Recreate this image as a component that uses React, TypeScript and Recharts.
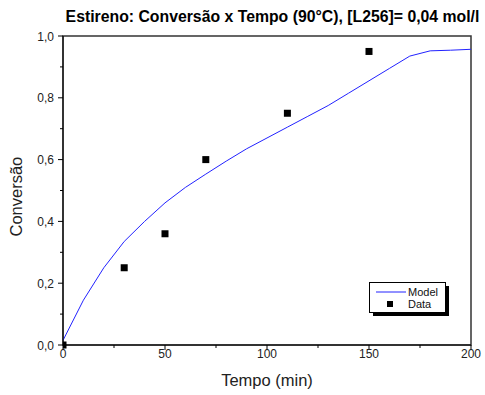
import React from "react";
import {
  ComposedChart,
  Line,
  Scatter,
  XAxis,
  YAxis,
  ReferenceArea,
} from "recharts";

const modelTime = [0, 10, 20, 30, 40, 50, 60, 70, 80, 90, 100, 110, 120, 130, 140, 150, 160, 170, 180, 190, 200];
const modelConv = [0.015, 0.145, 0.25, 0.335, 0.4, 0.46, 0.51, 0.553, 0.595, 0.635, 0.67, 0.705, 0.74, 0.775, 0.815, 0.855, 0.895, 0.935, 0.952, 0.954, 0.957];

const dataTime = [0, 30, 50, 70, 110, 150];
const dataConv = [0, 0.25, 0.36, 0.6, 0.75, 0.95];

const xTicks = [0, 25, 50, 75, 100, 125, 150, 175, 200];
const yTicks = [0, 0.1, 0.2, 0.3, 0.4, 0.5, 0.6, 0.7, 0.8, 0.9, 1.0];

const modelData = modelTime.map((t, i) => ({ t, model: modelConv[i] }));
const pointData = dataTime.map((t, i) => ({ t, data: dataConv[i] }));

const font = "Arial, 'Liberation Sans', Helvetica, sans-serif";

function XTick(props: any) {
  const { x, y, payload } = props;
  const major = payload.value % 50 === 0;
  return (
    <g>
      <line x1={x} y1={y} x2={x} y2={y + (major ? 5 : 3)} stroke="#000" strokeWidth={1} />
      {major && (
        <text x={x} y={y + 13} textAnchor="middle" fontSize={12} fontFamily={font} fill="#222">
          {payload.value}
        </text>
      )}
    </g>
  );
}

function YTick(props: any) {
  const { x, y, payload } = props;
  const v = Math.round(payload.value * 10);
  const major = v % 2 === 0;
  return (
    <g>
      <line x1={x} y1={y} x2={x - (major ? 5 : 3)} y2={y} stroke="#000" strokeWidth={1} />
      {major && (
        <text x={x - 9} y={y + 4.5} textAnchor="end" fontSize={12} fontFamily={font} fill="#222">
          {payload.value.toFixed(1).replace(".", ",")}
        </text>
      )}
    </g>
  );
}

function Square(props: any) {
  const { cx, cy } = props;
  return <rect x={cx - 3.5} y={cy - 3.5} width={7} height={7} fill="#000" />;
}

export default function App() {
  return (
    <div style={{ position: "absolute", left: 0, top: 0, width: 485, height: 395, background: "#fff" }}>
      <ComposedChart width={485} height={395} margin={{ top: 36, right: 14, bottom: 0, left: 0 }}>
        <text x={272.5} y={22} textAnchor="middle" fontSize={15.8} fontWeight="bold" fontFamily={font} fill="#000">
          Estireno: Conversão x Tempo (90°C), [L256]= 0,04 mol/l
        </text>
        <XAxis
          type="number"
          dataKey="t"
          domain={[0, 200]}
          ticks={xTicks}
          interval={0}
          allowDataOverflow
          height={50}
          axisLine={{ stroke: "#000", strokeWidth: 1 }}
          tickLine={false}
          tickSize={0}
          tickMargin={0}
          tick={<XTick />}
          label={{ value: "Tempo (min)", position: "insideBottom", offset: 9, fontSize: 16.5, fontFamily: font, fill: "#222" }}
        />
        <YAxis
          type="number"
          domain={[0, 1]}
          ticks={yTicks}
          interval={0}
          width={63}
          axisLine={{ stroke: "#000", strokeWidth: 1 }}
          tickLine={false}
          tickSize={0}
          tickMargin={0}
          tick={<YTick />}
          label={{ value: "Conversão", angle: -90, position: "insideLeft", offset: 16, dy: 46, fontSize: 16.5, fontFamily: font, fill: "#222" }}
        />
        <ReferenceArea x1={0} x2={200} y1={0} y2={1} fill="none" stroke="#333" strokeWidth={1.5} ifOverflow="visible" />
        <Line
          data={modelData}
          dataKey="model"
          type="linear"
          stroke="#2222ff"
          strokeWidth={1}
          dot={false}
          isAnimationActive={false}
        />
        <Scatter data={pointData} dataKey="data" shape={<Square />} isAnimationActive={false} />
        <g transform="translate(369,282)">
          <rect x={4} y={4} width={76} height={30} fill="#000" />
          <rect x={0.5} y={0.5} width={76} height={30} fill="#fff" stroke="#000" strokeWidth={1} />
          <line x1={7} y1={10} x2={37} y2={10} stroke="#2222ff" strokeWidth={1} />
          <text x={39} y={14} fontSize={11} fontFamily={font} fill="#111">Model</text>
          <rect x={18} y={19} width={6} height={6} fill="#000" />
          <text x={39} y={26} fontSize={11} fontFamily={font} fill="#111">Data</text>
        </g>
      </ComposedChart>
    </div>
  );
}
